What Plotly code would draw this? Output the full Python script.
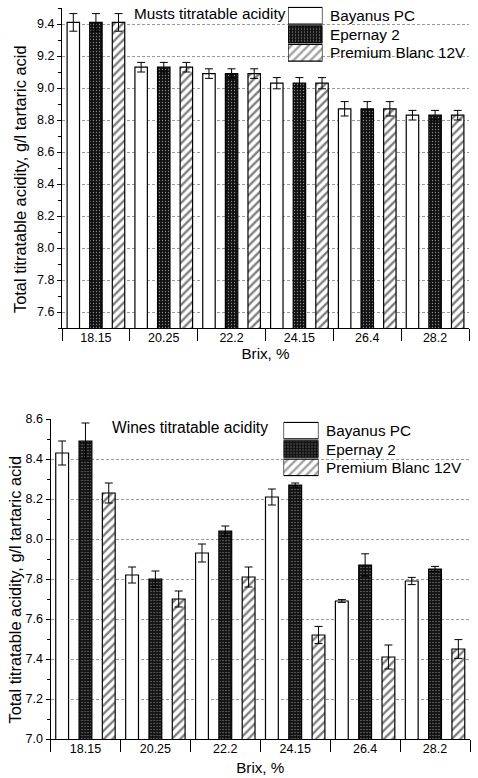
import plotly.graph_objects as go

# Brix levels (categories) and yeast strains (series)
brix = ["18.15", "20.25", "22.2", "24.15", "26.4", "28.2"]
yeasts = ["Bayanus PC", "Epernay 2", "Premium Blanc 12V"]

# Musts titratable acidity, g/l tartaric acid
musts_bayanus = [9.41, 9.13, 9.09, 9.03, 8.87, 8.83]
musts_epernay = [9.41, 9.13, 9.09, 9.03, 8.87, 8.83]
musts_premium = [9.41, 9.13, 9.09, 9.03, 8.87, 8.83]
musts_err = [0.055, 0.03, 0.03, 0.035, 0.045, 0.03]

# Wines titratable acidity, g/l tartaric acid
wines_bayanus = [8.43, 7.82, 7.93, 8.21, 7.69, 7.79]
wines_epernay = [8.49, 7.80, 8.04, 8.27, 7.87, 7.85]
wines_premium = [8.23, 7.70, 7.81, 7.52, 7.41, 7.45]
wines_bayanus_err = [0.06, 0.04, 0.045, 0.04, 0.007, 0.018]
wines_epernay_err = [0.09, 0.04, 0.025, 0.01, 0.056, 0.013]
wines_premium_err = [0.05, 0.04, 0.05, 0.043, 0.06, 0.047]

W, H = 478, 778
FONT = "Liberation Sans, Arial, sans-serif"
YTITLE = "Total titratable acidity, g/l tartaric acid"


def px_x(a, b):
    return [a / W, b / W]


def px_y(top, bottom):
    return [1 - bottom / H, 1 - top / H]


# Fill styles per strain: plain white, dark dotted, diagonal hatch
styles = [
    dict(color="white", pattern=dict(shape="")),
    dict(color="#111111", pattern=dict(shape=".", fgcolor="white", bgcolor="#111111",
                                       size=3, solidity=0.15)),
    dict(color="white", pattern=dict(shape="/", fgcolor="black", bgcolor="white",
                                     size=6, solidity=0.4)),
]

fig = go.Figure()


def add_series(values, errors, xa, ya):
    for name, vals, err, st in zip(yeasts, values, errors, styles):
        fig.add_trace(go.Bar(
            x=brix, y=vals, name=name, xaxis=xa, yaxis=ya, showlegend=False,
            marker=dict(color=st["color"], pattern=st["pattern"],
                        line=dict(color="black", width=1.2)),
            error_y=dict(type="data", array=err, color="black", thickness=1, width=4),
        ))


add_series([musts_bayanus, musts_epernay, musts_premium],
           [musts_err, musts_err, musts_err], "x", "y")
add_series([wines_bayanus, wines_epernay, wines_premium],
           [wines_bayanus_err, wines_epernay_err, wines_premium_err], "x2", "y2")

# Legend swatches drawn as bars on small dedicated axes
swatch_marker = dict(
    color=[s["color"] for s in styles],
    pattern=dict(shape=["", ".", "/"],
                 fgcolor=["white", "white", "black"],
                 bgcolor=["white", "#111111", "white"],
                 size=[3, 3, 6], solidity=[0.15, 0.15, 0.4]),
    line=dict(color="black", width=1.2),
)
for xa, ya in (("x3", "y3"), ("x4", "y4")):
    fig.add_trace(go.Bar(
        x=[1, 1, 1], y=[0, 1, 2], orientation="h", width=0.9,
        xaxis=xa, yaxis=ya, marker=swatch_marker, showlegend=False, hoverinfo="skip",
    ))
    for i, name in enumerate(yeasts):
        fig.add_annotation(x=1, y=i, xref=xa, yref=ya, text=name, showarrow=False,
                           xanchor="left", yanchor="middle", xshift=5,
                           font=dict(size=15.3, color="black", family=FONT))

tickfont = dict(size=12.5, color="black", family=FONT)
titlefont = dict(size=15.2, color="black", family=FONT)

xcommon = dict(type="category", showline=True, linecolor="black", linewidth=1,
               ticks="outside", tickson="boundaries", ticklen=12, tickcolor="black",
               tickwidth=1, tickfont=tickfont, ticklabelstandoff=-2,
               showgrid=False, zeroline=False, fixedrange=True, automargin=False)
ycommon = dict(showline=True, linecolor="black", linewidth=1, ticks="outside",
               ticklen=4, tickcolor="black", tickwidth=1, tickformat=".1f",
               tickfont=tickfont, showgrid=True, gridcolor="#9a9a9a", gridwidth=1,
               griddash="3px,2px", zeroline=False, automargin=False,
               minor=dict(dtick=0.1, ticks="outside", ticklen=3, tickcolor="black",
                          showgrid=False))

swatch_x = dict(range=[0, 1], visible=False, fixedrange=True)
swatch_y = dict(range=[2.5, -0.5], visible=False, fixedrange=True)

fig.update_layout(
    width=W, height=H,
    margin=dict(l=0, r=0, t=0, b=0, autoexpand=False),
    paper_bgcolor="white", plot_bgcolor="white",
    barmode="group", bargap=0.0, bargroupgap=0.45,
    font=dict(family=FONT, color="black"),
    xaxis=dict(xcommon, domain=px_x(62, 469), anchor="y",
               title=dict(text="Brix, %", font=titlefont, standoff=4)),
    yaxis=dict(ycommon, domain=px_y(8, 328), anchor="x", range=[7.5, 9.5],
               tick0=7.6, dtick=0.2),
    xaxis2=dict(xcommon, domain=px_x(50.5, 470), anchor="y2",
                title=dict(text="Brix, %", font=titlefont, standoff=7)),
    yaxis2=dict(ycommon, domain=px_y(419, 739), anchor="x2", range=[7.0, 8.6],
                tick0=7.0, dtick=0.2),
    xaxis3=dict(swatch_x, domain=px_x(288, 322.5), anchor="y3"),
    yaxis3=dict(swatch_y, domain=px_y(6.5, 62), anchor="x3"),
    xaxis4=dict(swatch_x, domain=px_x(283.5, 318.5), anchor="y4"),
    yaxis4=dict(swatch_y, domain=px_y(421.5, 476.5), anchor="x4"),
)

# Vertical axis titles
for xc, yc in ((20.5, 179.5), (14.5, 590)):
    fig.add_annotation(text=YTITLE, xref="paper", yref="paper", x=xc / W, y=1 - yc / H,
                       xanchor="center", yanchor="middle", textangle=-90,
                       showarrow=False, font=dict(size=16.4, color="black", family=FONT))

# Panel titles
fig.add_annotation(text="Musts titratable acidity", xref="paper", yref="paper",
                   x=132 / W, y=1 - 13.5 / H, xanchor="left", yanchor="middle",
                   showarrow=False, font=dict(size=15.3, color="black", family=FONT))
fig.add_annotation(text="Wines titratable acidity", xref="paper", yref="paper",
                   x=110 / W, y=1 - 427 / H, xanchor="left", yanchor="middle",
                   showarrow=False, font=dict(size=15.6, color="black", family=FONT))

fig.write_html("out.html")
